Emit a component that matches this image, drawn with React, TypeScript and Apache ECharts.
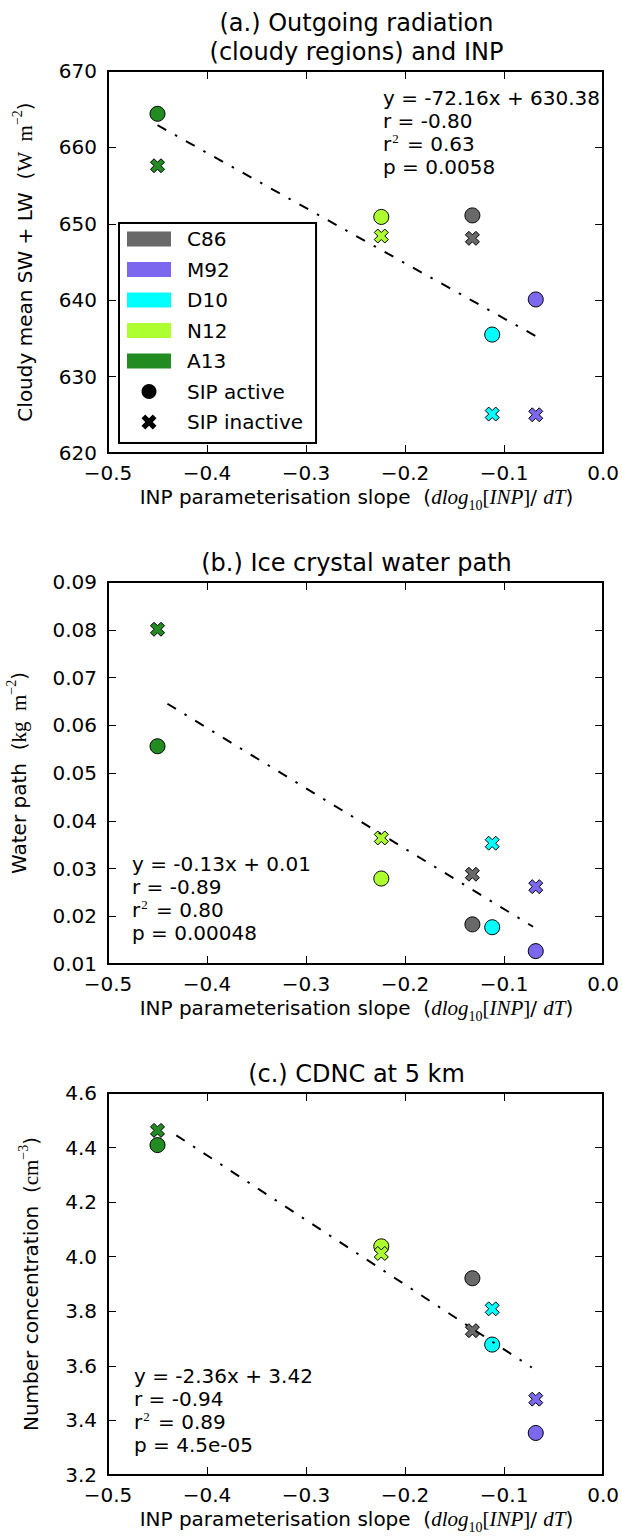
import React, { useEffect, useRef } from 'react';
import * as echarts from 'echarts';

// ---------- data ----------
const models = ['C86', 'M92', 'D10', 'N12', 'A13'];
const modelColors = ['#696969', '#7b68ee', '#00ffff', '#adff2f', '#228b22'];
const inpSlope = [-0.132, -0.068, -0.112, -0.224, -0.45];

const radActive = [651.1, 640.1, 635.5, 650.9, 664.4];
const radInactive = [648.1, 625.0, 625.1, 648.4, 657.6];
const iwpActive = [0.0183, 0.0127, 0.0177, 0.0279, 0.0556];
const iwpInactive = [0.0288, 0.0262, 0.0353, 0.0364, 0.0801];
const cdncActive = [3.921, 3.354, 3.678, 4.038, 4.409];
const cdncInactive = [3.729, 3.478, 3.809, 4.012, 4.463];

const radFit = [[-0.45, 662.9], [-0.068, 635.3]];
const iwpFit = [[-0.44, 0.0645], [-0.0707, 0.0178]];
const cdncFit = [[-0.431, 4.445], [-0.072, 3.594]];

const xRange = { min: -0.5, max: 0, step: 0.1, digits: 1 };
const radRange = { min: 620, max: 670, step: 10, digits: 0 };
const iwpRange = { min: 0.01, max: 0.09, step: 0.01, digits: 2 };
const cdncRange = { min: 3.2, max: 4.6, step: 0.2, digits: 1 };

const titles = [['(a.) Outgoing radiation', '(cloudy regions) and INP'], ['(b.) Ice crystal water path'], ['(c.) CDNC at 5 km']];
const statsRad = ['y = -72.16x + 630.38', 'r = -0.80', '0.63', 'p = 0.0058'];
const statsIwp = ['y = -0.13x + 0.01', 'r = -0.89', '0.80', 'p = 0.00048'];
const statsCdnc = ['y = -2.36x + 3.42', 'r = -0.94', '0.89', 'p = 4.5e-05'];

// ---------- layout ----------
const FONT = 'DejaVu Sans';
const SERIF = 'Liberation Serif';
const GL = 108;
const GW = 497;
const GH = 382;
const gridTops = [71, 582, 1093];
const XPATH = 'path://M6,0L8,2L6,4L8,6L6,8L4,6L2,8L0,6L2,4L0,2L2,0L4,2Z';

const fmt = (digits: number) => (v: number) => {
  const s = Number(v).toFixed(digits);
  return s.startsWith('-') ? '\u2212' + s.slice(1) : s;
};

function xAxes(gi: number) {
  return ['bottom', 'top'].map((pos) => ({
    type: 'value',
    gridIndex: gi,
    position: pos,
    min: xRange.min,
    max: xRange.max,
    interval: xRange.step,
    axisLine: { show: true, onZero: false, lineStyle: { color: '#000', width: 2 } },
    axisTick: { show: true, inside: true, length: 8, lineStyle: { color: '#000', width: 1 } },
    axisLabel: { show: pos === 'bottom', margin: 10, color: '#000', fontSize: 20, fontFamily: FONT, formatter: fmt(xRange.digits) },
    splitLine: { show: false },
  }));
}

function yAxes(gi: number, r: { min: number; max: number; step: number; digits: number }) {
  return ['left', 'right'].map((pos) => ({
    type: 'value',
    gridIndex: gi,
    position: pos,
    min: r.min,
    max: r.max,
    interval: r.step,
    axisLine: { show: true, onZero: false, lineStyle: { color: '#000', width: 2 } },
    axisTick: { show: true, inside: true, length: 8, lineStyle: { color: '#000', width: 1 } },
    axisLabel: { show: pos === 'left', margin: 11, color: '#000', fontSize: 20, fontFamily: FONT, formatter: fmt(r.digits) },
    splitLine: { show: false },
  }));
}

function panelSeries(gi: number, active: number[], inactive: number[], fit: number[][]) {
  const out: any[] = [];
  models.forEach((m, i) => {
    out.push({
      type: 'scatter', name: m, xAxisIndex: gi * 2, yAxisIndex: gi * 2,
      data: [[inpSlope[i], active[i]]], symbol: 'circle', symbolSize: 15, z: 3,
      itemStyle: { color: modelColors[i], borderColor: '#000', borderWidth: 1, opacity: 1 },
    });
    out.push({
      type: 'scatter', name: m, xAxisIndex: gi * 2, yAxisIndex: gi * 2,
      data: [[inpSlope[i], inactive[i]]], symbol: XPATH, symbolSize: 14, z: 3,
      itemStyle: { color: modelColors[i], borderColor: '#000', borderWidth: 1, opacity: 1 },
    });
  });
  out.push({
    type: 'line', name: 'fit' + gi, xAxisIndex: gi * 2, yAxisIndex: gi * 2,
    data: fit, symbol: 'none', z: 4, silent: true,
    lineStyle: { color: '#000', width: 2, type: [10, 10, 2.5, 10] },
  });
  return out;
}

function statText(x: number, y: number, s: string[]) {
  return {
    type: 'text', x, y, z: 5,
    style: {
      text: `${s[0]}\n${s[1]}\n{n|r}{sup|2}{n| = ${s[2]}}\n${s[3]}`,
      fontSize: 20, fontFamily: FONT, fill: '#000', lineHeight: 23,
      rich: {
        n: { fontSize: 20, fontFamily: FONT, lineHeight: 23 },
        sup: { fontSize: 13, fontFamily: SERIF, lineHeight: 23, verticalAlign: 'top', padding: [0, 2, 0, 1] },
      },
    },
  };
}

const xLabelText = 'INP parameterisation slope  ({i|dlog}{sub|10}{r|[}{i|INP}{r|]}/ {i|dT})';
const xLabelRich = {
  i: { fontFamily: SERIF, fontStyle: 'italic', fontSize: 21 },
  r: { fontFamily: SERIF, fontSize: 21 },
  sub: { fontFamily: SERIF, fontSize: 14, verticalAlign: 'bottom', lineHeight: 30 },
};
const yRich = {
  m: { fontFamily: SERIF, fontSize: 21 },
  sup: { fontFamily: SERIF, fontSize: 14, verticalAlign: 'top', lineHeight: 30 },
};
const yLabels = [
  'Cloudy mean SW + LW  ({m|W  m}{sup|\u22122})',
  'Water path  ({m|kg  m}{sup|\u22122})',
  'Number concentration  ({m|cm}{sup|\u22123})',
];
const yLabelX = [25, 19, 31];

export default function App() {
  const ref = useRef<HTMLDivElement>(null);
  useEffect(() => {
    document.body.style.margin = '0';
    if (!ref.current) return;
    const chart = echarts.init(ref.current, undefined, { renderer: 'svg' });

    const graphic: any[] = [];
    // titles
    graphic.push({ type: 'text', x: GL + GW / 2, y: 37, style: { text: titles[0].join('\n'), align: 'center', verticalAlign: 'middle', fontSize: 24, lineHeight: 29, fontFamily: FONT, fill: '#000' } });
    graphic.push({ type: 'text', x: GL + GW / 2, y: gridTops[1] - 19, style: { text: titles[1][0], align: 'center', verticalAlign: 'middle', fontSize: 24, fontFamily: FONT, fill: '#000' } });
    graphic.push({ type: 'text', x: GL + GW / 2, y: gridTops[2] - 19, style: { text: titles[2][0], align: 'center', verticalAlign: 'middle', fontSize: 24, fontFamily: FONT, fill: '#000' } });
    // axis names
    gridTops.forEach((t, gi) => {
      graphic.push({ type: 'text', x: GL + GW / 2, y: t + GH + 44, style: { text: xLabelText, rich: xLabelRich, align: 'center', verticalAlign: 'middle', fontSize: 20, fontFamily: FONT, fill: '#000' } });
      graphic.push({ type: 'text', x: yLabelX[gi], y: t + GH / 2, rotation: Math.PI / 2, style: { text: yLabels[gi], rich: yRich, align: 'center', verticalAlign: 'middle', fontSize: 20, fontFamily: FONT, fill: '#000' } });
    });
    // stats
    graphic.push(statText(383, 86, statsRad));
    graphic.push(statText(132, 852, statsIwp));
    graphic.push(statText(134, 1364, statsCdnc));

    const series = [
      ...panelSeries(0, radActive, radInactive, radFit),
      ...panelSeries(1, iwpActive, iwpInactive, iwpFit),
      ...panelSeries(2, cdncActive, cdncInactive, cdncFit),
      { type: 'scatter', name: 'SIP active', xAxisIndex: 0, yAxisIndex: 0, data: [], symbol: 'circle', itemStyle: { color: '#000', opacity: 1 } },
      { type: 'scatter', name: 'SIP inactive', xAxisIndex: 0, yAxisIndex: 0, data: [], symbol: XPATH, itemStyle: { color: '#000', opacity: 1 } },
    ];

    chart.setOption({
      animation: false,
      backgroundColor: '#fff',
      grid: gridTops.map((t) => ({ left: GL, top: t, width: GW, height: GH, show: false })),
      xAxis: [...xAxes(0), ...xAxes(1), ...xAxes(2)],
      yAxis: [...yAxes(0, radRange), ...yAxes(1, iwpRange), ...yAxes(2, cdncRange)],
      legend: {
        orient: 'vertical', left: 119, top: 223, padding: [6, 13, 11, 8],
        borderColor: '#000', borderWidth: 2, backgroundColor: '#fff', borderRadius: 0,
        itemWidth: 44, itemHeight: 15, itemGap: 10.5, selectedMode: false, z: 10,
        textStyle: { fontSize: 20, fontFamily: FONT, color: '#000', lineHeight: 20, padding: [0, 0, 0, 11] },
        itemStyle: { borderWidth: 0, opacity: 1 },
        data: [
          ...models.map((n, i) => ({ name: n, icon: 'rect', itemStyle: { color: modelColors[i], borderWidth: 0, opacity: 1 } })),
          { name: 'SIP active', icon: 'circle', itemStyle: { color: '#000', borderWidth: 0, opacity: 1 } },
          { name: 'SIP inactive', icon: XPATH, itemStyle: { color: '#000', borderWidth: 0, opacity: 1 } },
        ],
      },
      graphic,
      series,
    });
    return () => chart.dispose();
  }, []);
  return <div ref={ref} style={{ width: 622, height: 1540 }} />;
}
